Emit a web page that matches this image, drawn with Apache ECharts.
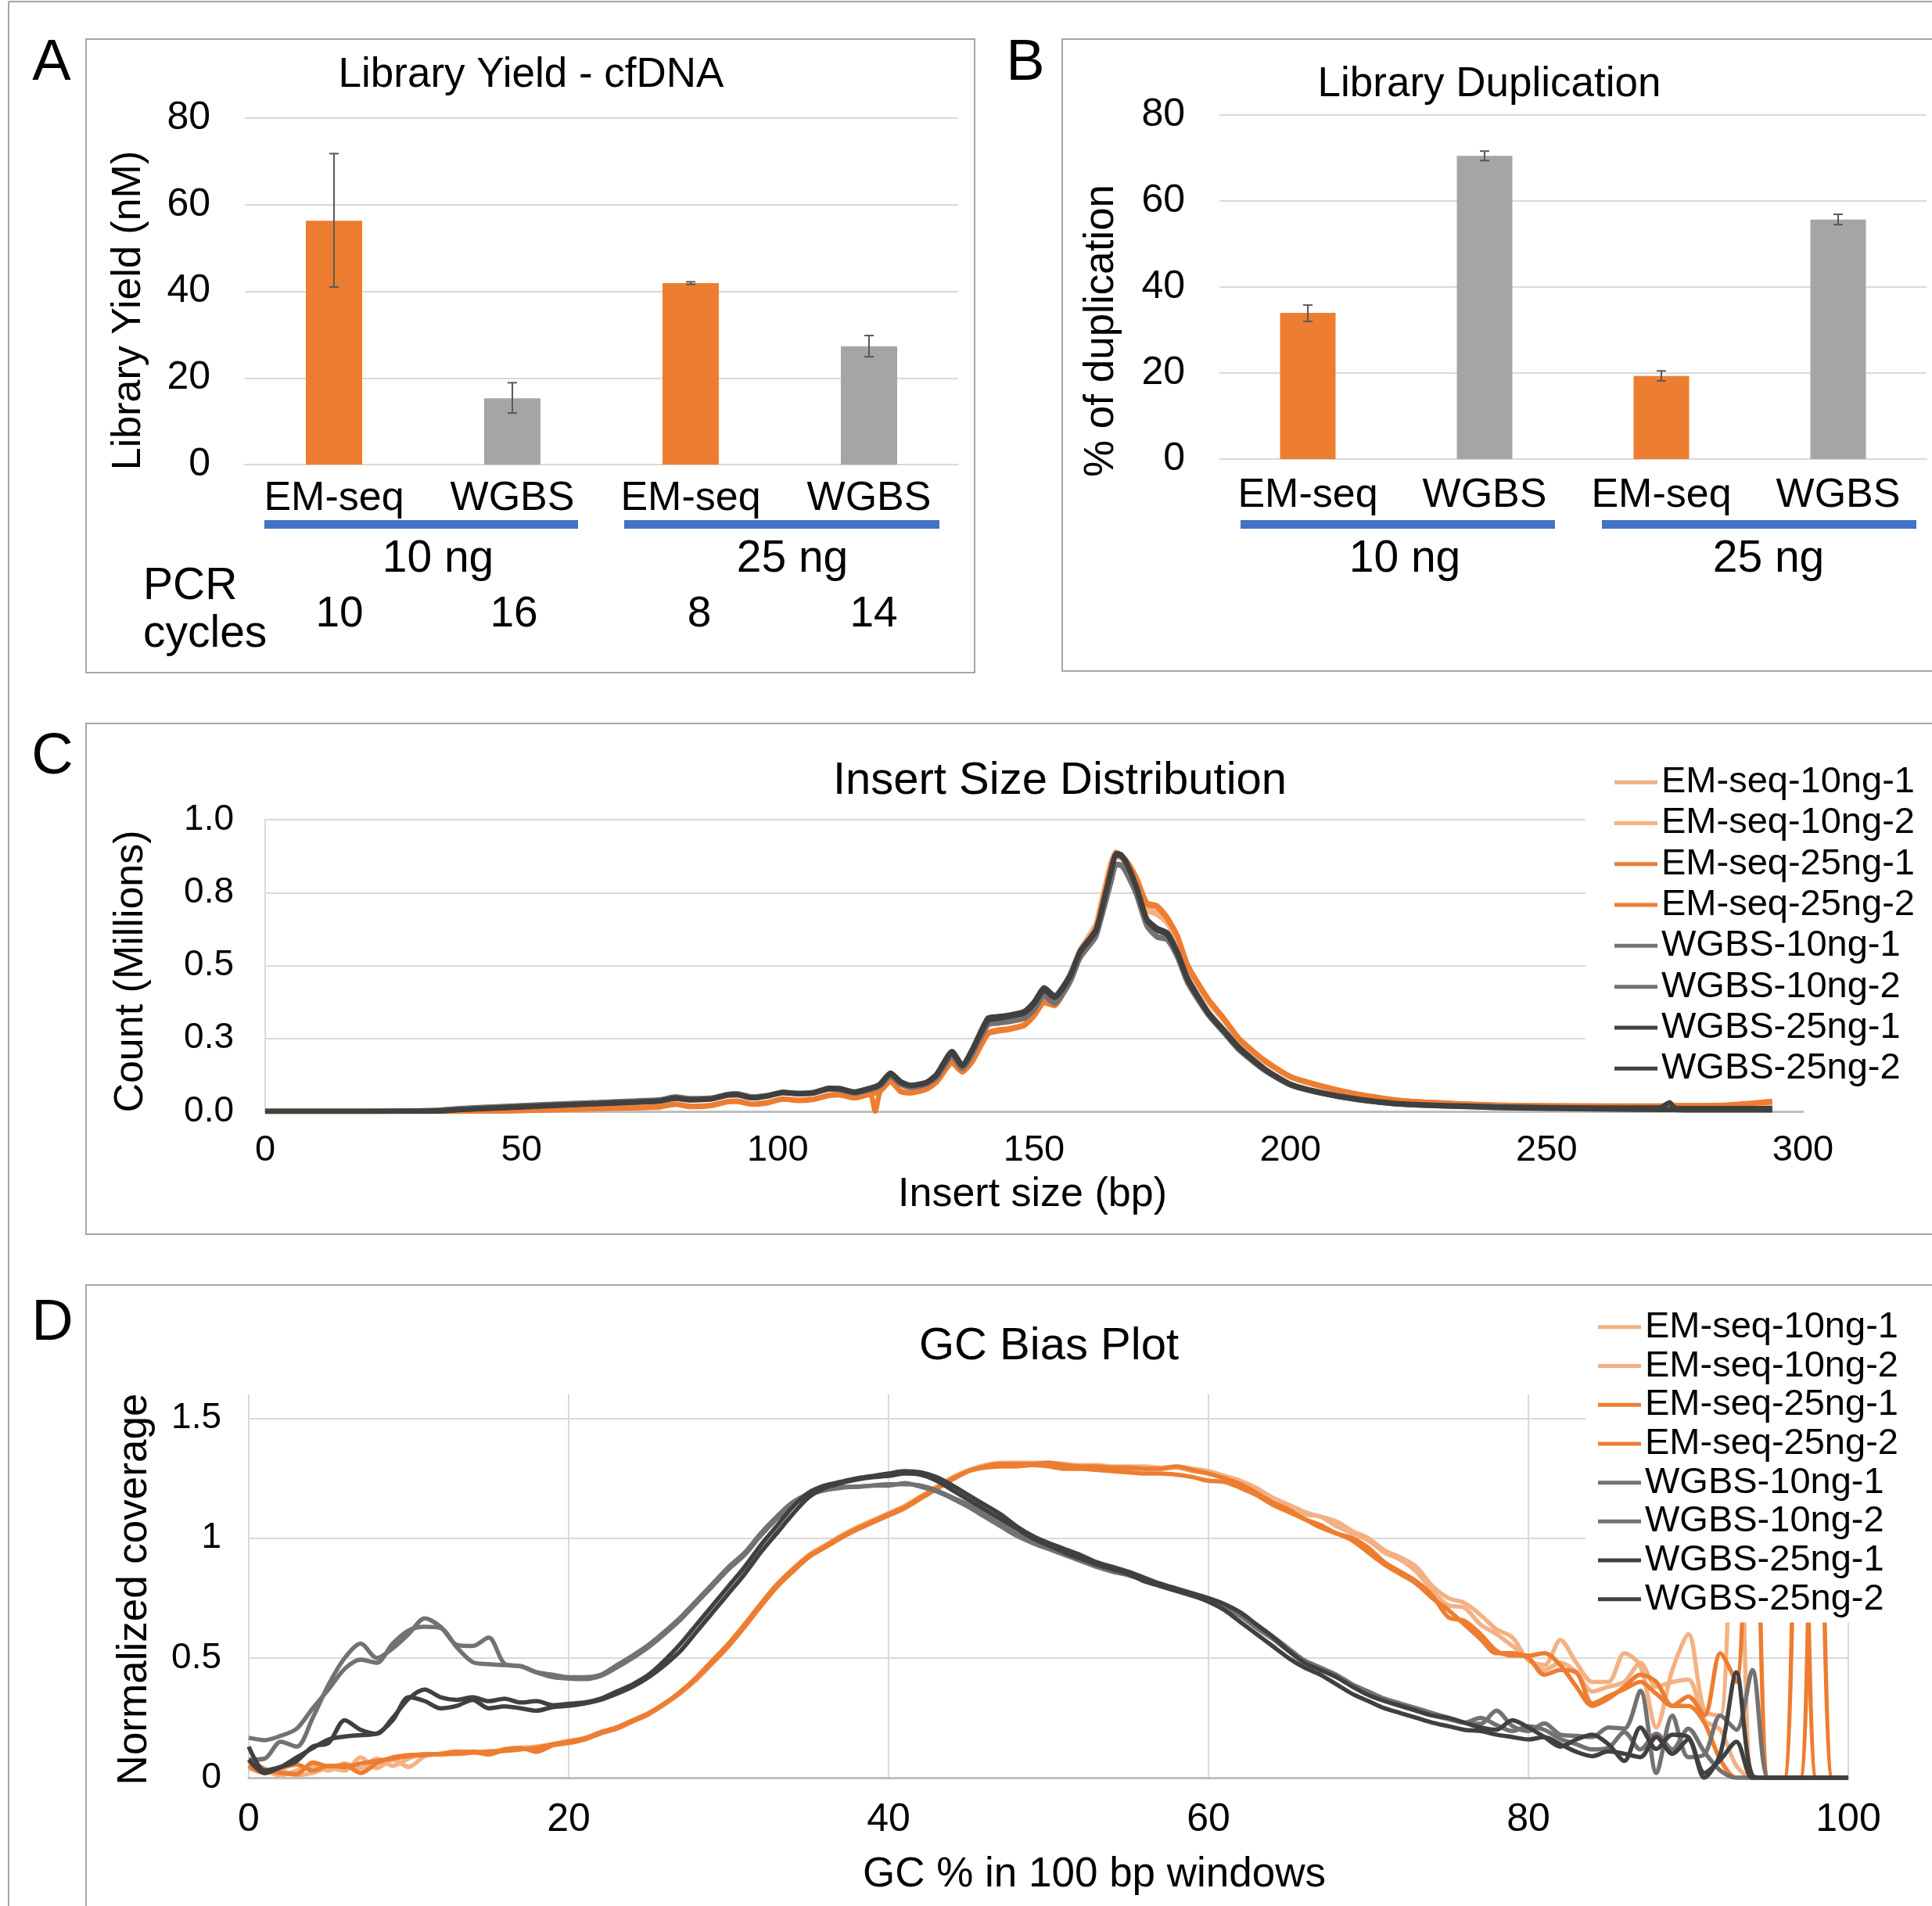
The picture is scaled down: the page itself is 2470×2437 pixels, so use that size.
<!DOCTYPE html>
<html>
<head>
<meta charset="utf-8">
<script src="https://cdn.jsdelivr.net/npm/echarts@6/dist/echarts.min.js"></script>
<style>
  html, body { margin: 0; padding: 0; background: #fff; }
  #main { width: 2470px; height: 2437px; }
</style>
</head>
<body>
<div id="main"></div>
<script>
const FONT = '"Liberation Sans", Arial, Helvetica, sans-serif';

// ---- panel A / B : bars ----
const libCategories = ['EM-seq', 'WGBS', 'EM-seq', 'WGBS'];
const barColors = ['#ED7D31', '#A5A5A5', '#ED7D31', '#A5A5A5'];
const yieldValues = [56.3, 15.3, 41.9, 27.3];
const yieldLow = [41.0, 11.9, 41.6, 24.9];
const yieldHigh = [71.8, 18.9, 42.2, 29.8];
const dupValues = [34.0, 70.5, 19.3, 55.7];
const dupLow = [32.0, 69.4, 18.2, 54.5];
const dupHigh = [35.8, 71.6, 20.5, 56.9];
const inputGroups = ['10 ng', '25 ng'];
const pcrCycles = ['10', '16', '8', '14'];

// ---- shared sample names / colours ----
const sampleNames = ['EM-seq-10ng-1', 'EM-seq-10ng-2', 'EM-seq-25ng-1', 'EM-seq-25ng-2',
  'WGBS-10ng-1', 'WGBS-10ng-2', 'WGBS-25ng-1', 'WGBS-25ng-2'];
const sampleColors = ['#F4B183', '#F4B183', '#ED7D31', '#ED7D31',
  '#767171', '#767171', '#404040', '#404040'];

// ---- panel C : insert size (millions) ----
const countTickLabels = ['0.0', '0.3', '0.5', '0.8', '1.0'];
const insertSize = [0, 20, 33, 38, 45, 55, 65, 72, 77, 80, 83, 87, 90, 92, 95, 98, 101, 104, 107, 110,
  112, 115, 118, 119, 120, 122, 124, 126, 129, 131, 134, 136, 138, 141, 143, 145, 148, 150, 152, 154,
  157, 159, 162, 163, 165, 166, 167, 168, 170, 172, 174, 176, 178, 180, 184, 187, 190, 195, 200, 206,
  213, 222, 240, 260, 272, 274, 275, 277, 285, 294];
const insEm10_1 = [0, 0, 0, 0, 0.002, 0.006, 0.011, 0.014, 0.017, 0.026, 0.018, 0.021, 0.033, 0.036, 0.026,
  0.031, 0.043, 0.039, 0.043, 0.056, 0.058, 0.048, 0.06, 0.064, 0.072, 0.105, 0.075, 0.066, 0.078, 0.105,
  0.172, 0.137, 0.18, 0.27, 0.28, 0.283, 0.298, 0.33, 0.38, 0.365, 0.47, 0.555, 0.64, 0.71, 0.855,
  0.89, 0.875, 0.85, 0.765, 0.695, 0.68, 0.648, 0.58, 0.49, 0.378, 0.315, 0.245, 0.172, 0.118, 0.085,
  0.058, 0.036, 0.022, 0.019, 0.019, 0.019, 0.019, 0.02, 0.021, 0.028];
const insEm10_2 = [0, 0, 0, 0, 0.002, 0.006, 0.01, 0.013, 0.016, 0.025, 0.017, 0.02, 0.032, 0.035, 0.025,
  0.03, 0.042, 0.038, 0.042, 0.055, 0.057, 0.047, 0.059, 0.063, 0.071, 0.104, 0.074, 0.065, 0.077, 0.104,
  0.17, 0.135, 0.178, 0.268, 0.278, 0.281, 0.296, 0.328, 0.378, 0.362, 0.468, 0.552, 0.636, 0.705, 0.85,
  0.885, 0.872, 0.847, 0.76, 0.69, 0.675, 0.645, 0.578, 0.487, 0.375, 0.312, 0.243, 0.17, 0.117, 0.084,
  0.057, 0.035, 0.021, 0.018, 0.018, 0.018, 0.018, 0.019, 0.02, 0.026];
const insEm25_1 = [0, 0, 0, 0, 0.001, 0.005, 0.01, 0.013, 0.016, 0.025, 0.017, 0.021, 0.033, 0.035, 0.025,
  0.03, 0.043, 0.038, 0.042, 0.055, 0.057, 0.047, 0.06, 0.0, 0.07, 0.104, 0.068, 0.064, 0.077, 0.102,
  0.168, 0.137, 0.175, 0.268, 0.278, 0.283, 0.296, 0.33, 0.375, 0.365, 0.46, 0.545, 0.625, 0.69, 0.84,
  0.878, 0.872, 0.86, 0.8, 0.715, 0.705, 0.665, 0.6, 0.5, 0.385, 0.32, 0.25, 0.175, 0.12, 0.088,
  0.06, 0.037, 0.022, 0.019, 0.019, 0.019, 0.02, 0.02, 0.022, 0.035];
const insEm25_2 = [0, 0, 0, 0, 0.001, 0.005, 0.009, 0.012, 0.015, 0.024, 0.016, 0.02, 0.032, 0.034, 0.024,
  0.029, 0.042, 0.037, 0.041, 0.054, 0.056, 0.046, 0.059, 0.063, 0.069, 0.102, 0.067, 0.063, 0.076, 0.1,
  0.165, 0.135, 0.172, 0.265, 0.275, 0.28, 0.293, 0.327, 0.372, 0.362, 0.456, 0.54, 0.62, 0.685, 0.835,
  0.875, 0.87, 0.858, 0.795, 0.71, 0.7, 0.66, 0.598, 0.498, 0.383, 0.318, 0.248, 0.173, 0.119, 0.087,
  0.059, 0.036, 0.021, 0.018, 0.018, 0.018, 0.019, 0.019, 0.021, 0.032];
const insWg10_1 = [0, 0, 0.004, 0.01, 0.016, 0.024, 0.031, 0.036, 0.04, 0.05, 0.044, 0.046, 0.058, 0.061, 0.05,
  0.055, 0.066, 0.061, 0.064, 0.077, 0.075, 0.063, 0.075, 0.08, 0.088, 0.122, 0.094, 0.083, 0.094, 0.118,
  0.19, 0.148, 0.2, 0.3, 0.305, 0.31, 0.32, 0.352, 0.4, 0.372, 0.445, 0.53, 0.6, 0.66, 0.79,
  0.848, 0.845, 0.82, 0.745, 0.64, 0.6, 0.59, 0.53, 0.44, 0.33, 0.27, 0.21, 0.14, 0.09, 0.062,
  0.04, 0.024, 0.014, 0.01, 0.009, 0.009, 0.009, 0.008, 0.008, 0.008];
const insWg10_2 = [0, 0, 0.003, 0.009, 0.015, 0.023, 0.03, 0.035, 0.039, 0.048, 0.043, 0.045, 0.057, 0.06, 0.049,
  0.054, 0.065, 0.06, 0.063, 0.076, 0.074, 0.062, 0.074, 0.079, 0.087, 0.12, 0.093, 0.082, 0.093, 0.116,
  0.188, 0.146, 0.198, 0.296, 0.302, 0.307, 0.318, 0.348, 0.396, 0.37, 0.442, 0.527, 0.597, 0.655, 0.785,
  0.845, 0.842, 0.818, 0.742, 0.636, 0.597, 0.588, 0.528, 0.44, 0.332, 0.272, 0.212, 0.142, 0.091, 0.063,
  0.041, 0.025, 0.015, 0.011, 0.01, 0.01, 0.01, 0.009, 0.009, 0.009];
const insWg25_1 = [0, 0, 0, 0.006, 0.012, 0.02, 0.027, 0.032, 0.036, 0.046, 0.04, 0.043, 0.056, 0.058, 0.047,
  0.053, 0.066, 0.062, 0.065, 0.08, 0.079, 0.067, 0.08, 0.085, 0.095, 0.132, 0.102, 0.09, 0.1, 0.128,
  0.206, 0.16, 0.215, 0.32, 0.325, 0.33, 0.342, 0.375, 0.424, 0.396, 0.467, 0.55, 0.62, 0.68, 0.825,
  0.885, 0.88, 0.855, 0.77, 0.66, 0.628, 0.612, 0.545, 0.455, 0.34, 0.28, 0.22, 0.146, 0.094, 0.065,
  0.043, 0.026, 0.016, 0.012, 0.012, 0.03, 0.012, 0.01, 0.01, 0.01];
const insWg25_2 = [0, 0, 0.002, 0.006, 0.011, 0.019, 0.026, 0.031, 0.035, 0.044, 0.039, 0.042, 0.054, 0.056, 0.046,
  0.052, 0.064, 0.06, 0.063, 0.078, 0.077, 0.065, 0.078, 0.083, 0.092, 0.128, 0.099, 0.088, 0.098, 0.124,
  0.2, 0.156, 0.21, 0.312, 0.318, 0.325, 0.336, 0.368, 0.415, 0.39, 0.46, 0.545, 0.615, 0.675, 0.82,
  0.88, 0.875, 0.85, 0.765, 0.655, 0.622, 0.605, 0.54, 0.45, 0.335, 0.275, 0.215, 0.143, 0.092, 0.063,
  0.041, 0.024, 0.013, 0.008, 0.006, 0.006, 0.006, 0.005, 0.005, 0.005];
const insertSeries = [insEm10_1, insEm10_2, insEm25_1, insEm25_2, insWg10_1, insWg10_2, insWg25_1, insWg25_2];

// ---- panel D : GC bias (normalized coverage, one value per GC %) ----
const gcPercent = Array.from({ length: 101 }, (_, i) => i);
const gcEm10_1 = [0.04, 0.02, 0.03, 0.01, 0.02, 0.04, 0.03, 0.085, 0.04, 0.075,
  0.045, 0.09, 0.1, 0.11, 0.105, 0.1, 0.115, 0.125, 0.13, 0.14,
  0.15, 0.16, 0.185, 0.205, 0.235, 0.265, 0.305, 0.355, 0.41, 0.48,
  0.55, 0.63, 0.72, 0.8, 0.865, 0.925, 0.965, 1.005, 1.04, 1.07,
  1.1, 1.13, 1.17, 1.21, 1.25, 1.28, 1.3, 1.31, 1.315, 1.315,
  1.315, 1.31, 1.305, 1.305, 1.3, 1.3, 1.3, 1.295, 1.3, 1.29,
  1.28, 1.26, 1.24, 1.21, 1.17, 1.14, 1.11, 1.09, 1.07, 1.03,
  1.0, 0.95, 0.92, 0.88, 0.8, 0.75, 0.73, 0.68, 0.62, 0.586,
  0.49, 0.47, 0.575, 0.48, 0.4, 0.4, 0.52, 0.466, 0.21, 0.45,
  0.6, 0.28, 0.26, 1.8, 0, 0, 0, 0, 0, 0, 0];
const gcEm10_2 = [0.06, 0.03, 0.01, 0.03, 0.05, 0.03, 0.06, 0.04, 0.08, 0.05,
  0.08, 0.1, 0.095, 0.105, 0.11, 0.105, 0.12, 0.125, 0.13, 0.14,
  0.155, 0.165, 0.19, 0.21, 0.24, 0.27, 0.31, 0.36, 0.42, 0.49,
  0.56, 0.64, 0.725, 0.805, 0.87, 0.93, 0.97, 1.01, 1.045, 1.075,
  1.105, 1.135, 1.175, 1.215, 1.255, 1.285, 1.305, 1.315, 1.315, 1.31,
  1.31, 1.305, 1.3, 1.3, 1.295, 1.29, 1.29, 1.29, 1.295, 1.28,
  1.27, 1.25, 1.23, 1.2, 1.16, 1.13, 1.1, 1.09, 1.05, 1.02,
  0.99, 0.94, 0.91, 0.86, 0.78, 0.72, 0.71, 0.64, 0.6, 0.55,
  0.5, 0.45, 0.48, 0.44, 0.36, 0.38, 0.4, 0.48, 0.38, 0.4,
  0.41, 0.24, 0.2, 0.05, 0, 0, 0, 0, 0, 0, 0];
const gcEm25_1 = [0.075, 0.037, 0.02, 0.015, 0.064, 0.048, 0.053, 0.02, 0.06, 0.085,
  0.095, 0.097, 0.1, 0.108, 0.108, 0.097, 0.118, 0.124, 0.108, 0.135,
  0.145, 0.16, 0.185, 0.205, 0.235, 0.265, 0.31, 0.355, 0.415, 0.48,
  0.55, 0.63, 0.715, 0.795, 0.86, 0.92, 0.96, 1.0, 1.035, 1.065,
  1.095, 1.125, 1.165, 1.205, 1.245, 1.28, 1.3, 1.31, 1.31, 1.31,
  1.315, 1.305, 1.3, 1.3, 1.295, 1.295, 1.29, 1.29, 1.3, 1.285,
  1.27, 1.25, 1.225, 1.19, 1.15, 1.12, 1.08, 1.055, 1.02, 1.0,
  0.96, 0.9, 0.86, 0.82, 0.76, 0.67, 0.655, 0.6, 0.53, 0.51,
  0.51, 0.52, 0.47, 0.38, 0.3, 0.33, 0.38, 0.43, 0.4, 0.3,
  0.34, 0.26, 0.52, 0.4, 2.0, 0, 0, 2.2, 0, 0, 0];
const gcEm25_2 = [0.05, 0.02, 0.04, 0.055, 0.03, 0.05, 0.045, 0.06, 0.07, 0.08,
  0.09, 0.095, 0.1, 0.1, 0.105, 0.11, 0.112, 0.118, 0.125, 0.14,
  0.15, 0.165, 0.19, 0.21, 0.24, 0.27, 0.31, 0.36, 0.42, 0.49,
  0.56, 0.64, 0.725, 0.805, 0.87, 0.925, 0.965, 1.005, 1.04, 1.07,
  1.1, 1.13, 1.17, 1.21, 1.25, 1.28, 1.295, 1.3, 1.3, 1.305,
  1.3, 1.29, 1.29, 1.285, 1.28, 1.275, 1.27, 1.27, 1.265, 1.255,
  1.24, 1.235, 1.21, 1.18, 1.14, 1.11, 1.08, 1.045, 1.02, 0.99,
  0.94, 0.89, 0.85, 0.81, 0.75, 0.7, 0.64, 0.58, 0.52, 0.52,
  0.5, 0.43, 0.45, 0.44, 0.31, 0.34, 0.37, 0.4, 0.35, 0.3,
  0.3, 0.23, 0.075, 0, 0, 0, 0, 0, 2.2, 0, 0];
const gcWg10_1 = [0.167, 0.157, 0.175, 0.205, 0.29, 0.37, 0.455, 0.493, 0.48, 0.56,
  0.615, 0.63, 0.625, 0.545, 0.483, 0.474, 0.47, 0.466, 0.44, 0.42,
  0.414, 0.412, 0.425, 0.46, 0.5, 0.545, 0.6, 0.66, 0.73, 0.8,
  0.87, 0.93, 1.01, 1.08, 1.14, 1.18, 1.2, 1.21, 1.215, 1.22,
  1.225, 1.225, 1.22, 1.2, 1.17, 1.14, 1.1, 1.06, 1.02, 0.99,
  0.96, 0.94, 0.91, 0.885, 0.865, 0.85, 0.83, 0.805, 0.785, 0.765,
  0.745, 0.72, 0.68, 0.63, 0.59, 0.54, 0.49, 0.46, 0.43, 0.39,
  0.36, 0.33, 0.31, 0.29, 0.27, 0.25, 0.23, 0.225, 0.28, 0.216,
  0.195, 0.227, 0.18, 0.175, 0.17, 0.21, 0.205, 0.363, 0.02, 0.26,
  0.086, 0.097, 0.26, 0.2, 0.45, 0, 0, 0, 0, 0, 0];
const gcWg10_2 = [0.075, 0.08, 0.15, 0.13, 0.25, 0.39, 0.5, 0.56, 0.5, 0.54,
  0.6, 0.665, 0.63, 0.555, 0.55, 0.585, 0.475, 0.465, 0.44, 0.43,
  0.42, 0.42, 0.43, 0.47, 0.51, 0.555, 0.61, 0.67, 0.74, 0.81,
  0.88, 0.94, 1.02, 1.09, 1.15, 1.185, 1.205, 1.215, 1.215, 1.22,
  1.22, 1.23, 1.215, 1.195, 1.165, 1.13, 1.09, 1.05, 1.01, 0.98,
  0.955, 0.93, 0.905, 0.88, 0.86, 0.845, 0.825, 0.8, 0.78, 0.76,
  0.74, 0.715, 0.675, 0.625, 0.58, 0.53, 0.485, 0.455, 0.42, 0.385,
  0.355, 0.325, 0.3, 0.28, 0.26, 0.245, 0.23, 0.25, 0.22, 0.195,
  0.215, 0.2, 0.162, 0.14, 0.118, 0.125, 0.19, 0.118, 0.184, 0.118,
  0.205, 0.108, 0.03, 0, 0, 0, 0, 0, 0, 0, 0];
const gcWg25_1 = [0.13, 0.03, 0.045, 0.07, 0.13, 0.146, 0.24, 0.2, 0.184, 0.25,
  0.33, 0.368, 0.336, 0.325, 0.336, 0.32, 0.33, 0.314, 0.32, 0.303,
  0.309, 0.314, 0.33, 0.36, 0.39, 0.43, 0.49, 0.56, 0.64, 0.72,
  0.8, 0.88, 0.97, 1.05, 1.13, 1.19, 1.22, 1.235, 1.25, 1.26,
  1.27, 1.28, 1.275, 1.255, 1.22, 1.18, 1.14, 1.1, 1.05, 1.01,
  0.98, 0.955, 0.93, 0.9, 0.88, 0.86, 0.835, 0.81, 0.79, 0.77,
  0.75, 0.725, 0.69, 0.64, 0.59, 0.53, 0.48, 0.45, 0.42, 0.38,
  0.345, 0.32, 0.3, 0.28, 0.26, 0.25, 0.23, 0.21, 0.2, 0.24,
  0.21, 0.17, 0.13, 0.16, 0.18, 0.14, 0.07, 0.21, 0.12, 0.18,
  0.17, 0, 0.1, 0.44, 0.01, 0, 0, 0, 0, 0, 0];
const gcWg25_2 = [0.075, 0.02, 0.045, 0.085, 0.124, 0.16, 0.172, 0.178, 0.184, 0.24,
  0.336, 0.32, 0.29, 0.3, 0.325, 0.29, 0.298, 0.29, 0.28, 0.295,
  0.3, 0.31, 0.325, 0.35, 0.38, 0.42, 0.47, 0.53, 0.61, 0.69,
  0.77, 0.85, 0.94, 1.02, 1.1, 1.17, 1.21, 1.23, 1.245, 1.255,
  1.26, 1.27, 1.265, 1.24, 1.2, 1.16, 1.12, 1.08, 1.04, 1.0,
  0.97, 0.94, 0.915, 0.89, 0.87, 0.85, 0.82, 0.8, 0.78, 0.76,
  0.735, 0.7, 0.65, 0.6, 0.55, 0.5, 0.46, 0.43, 0.39, 0.35,
  0.32, 0.29, 0.27, 0.25, 0.23, 0.215, 0.2, 0.195, 0.18, 0.17,
  0.16, 0.17, 0.14, 0.108, 0.09, 0.11, 0.1, 0.086, 0.17, 0.1,
  0.16, 0.02, 0.075, 0.15, 0, 0, 0, 0, 0, 0, 0];
const gcSeries = [gcEm10_1, gcEm10_2, gcEm25_1, gcEm25_2, gcWg10_1, gcWg10_2, gcWg25_1, gcWg25_2];

const myChart = echarts.init(document.getElementById('main'), null, { renderer: 'canvas' });

function txt(x, y, s, size, extra) {
  return Object.assign({
    type: 'text', x: x, y: y, z: 10,
    style: {
      text: s, font: size + 'px ' + FONT, fill: '#000',
      align: 'center', verticalAlign: 'middle',
      textAlign: 'center', textVerticalAlign: 'middle'
    }
  }, extra || {});
}
function leftTxt(x, y, s, size) {
  return {
    type: 'text', x: x, y: y, z: 10,
    style: {
      text: s, font: size + 'px ' + FONT, fill: '#000',
      align: 'left', verticalAlign: 'middle',
      textAlign: 'left', textVerticalAlign: 'middle'
    }
  };
}
function box(x, y, w, h) {
  return { type: 'rect', shape: { x: x, y: y, width: w, height: h }, z: 0,
    style: { fill: 'none', stroke: '#A6A6A6', lineWidth: 2 } };
}
function blueBar(x, y, w) {
  return { type: 'rect', shape: { x: x, y: y, width: w, height: 11 }, z: 10, style: { fill: '#4472C4' } };
}

function errorBar(params, api) {
  const i = api.value(0);
  const top = api.coord([i, api.value(2)]);
  const bot = api.coord([i, api.value(1)]);
  const st = { stroke: '#595959', lineWidth: 2 };
  return {
    type: 'group',
    children: [
      { type: 'line', shape: { x1: top[0], y1: top[1], x2: bot[0], y2: bot[1] }, style: st },
      { type: 'line', shape: { x1: top[0] - 6, y1: top[1], x2: top[0] + 6, y2: top[1] }, style: st },
      { type: 'line', shape: { x1: bot[0] - 6, y1: bot[1], x2: bot[0] + 6, y2: bot[1] }, style: st }
    ]
  };
}

const gridColor = '#D9D9D9';
function barXAxis(grid, margin) {
  return {
    type: 'category', gridIndex: grid, data: libCategories,
    axisTick: { show: false },
    axisLine: { lineStyle: { color: gridColor, width: 2 } },
    axisLabel: { fontSize: 52, color: '#000', margin: margin, interval: 0 }
  };
}
function barYAxis(grid) {
  return {
    type: 'value', gridIndex: grid, min: 0, max: 80, interval: 20,
    axisLine: { show: false }, axisTick: { show: false },
    splitLine: { lineStyle: { color: gridColor, width: 2 } },
    axisLabel: { fontSize: 50, color: '#000', margin: 44 }
  };
}

const series = [
  {
    type: 'bar', xAxisIndex: 0, yAxisIndex: 0, barWidth: 72,
    data: yieldValues.map((v, i) => ({ value: v, itemStyle: { color: barColors[i] } }))
  },
  {
    type: 'custom', xAxisIndex: 0, yAxisIndex: 0, renderItem: errorBar, z: 5,
    encode: { x: 0, y: [1, 2] },
    data: yieldLow.map((lo, i) => [i, lo, yieldHigh[i]])
  },
  {
    type: 'bar', xAxisIndex: 1, yAxisIndex: 1, barWidth: 71,
    data: dupValues.map((v, i) => ({ value: v, itemStyle: { color: barColors[i] } }))
  },
  {
    type: 'custom', xAxisIndex: 1, yAxisIndex: 1, renderItem: errorBar, z: 5,
    encode: { x: 0, y: [1, 2] },
    data: dupLow.map((lo, i) => [i, lo, dupHigh[i]])
  }
];

insertSeries.forEach(function (arr, k) {
  series.push({
    name: sampleNames[k], type: 'line', xAxisIndex: 2, yAxisIndex: 2,
    symbol: 'none', smooth: 0.2, color: sampleColors[k],
    lineStyle: { width: 6.5, color: sampleColors[k] },
    data: insertSize.map((x, i) => [x, arr[i]])
  });
});
gcSeries.forEach(function (arr, k) {
  series.push({
    name: sampleNames[k], type: 'line', xAxisIndex: 3, yAxisIndex: 3,
    symbol: 'none', smooth: 0.3, color: sampleColors[k],
    lineStyle: { width: 5.5, color: sampleColors[k] },
    data: gcPercent.map((x, i) => [x, arr[i]])
  });
});

function sampleLegend(top, rowH, padLeft) {
  return {
    orient: 'vertical', left: 2027, top: top, data: sampleNames,
    icon: 'rect', itemWidth: 55, itemHeight: 5, itemGap: 0,
    backgroundColor: '#fff', padding: [5, 10, 5, padLeft],
    selectedMode: false,
    textStyle: { fontSize: 47, color: '#000', lineHeight: rowH }
  };
}

const option = {
  animation: false,
  backgroundColor: '#fff',
  textStyle: { fontFamily: FONT },
  grid: [
    { left: 313, top: 151, width: 912, height: 443 },
    { left: 1559, top: 147, width: 904, height: 440 },
    { left: 339, top: 1048, width: 1966, height: 373 },
    { left: 318, top: 1783, width: 2045, height: 490 }
  ],
  xAxis: [
    barXAxis(0, 18),
    barXAxis(1, 21),
    {
      type: 'value', gridIndex: 2, min: 0, max: 300, interval: 50,
      axisLine: { lineStyle: { color: '#BFBFBF', width: 3 } },
      axisTick: { show: false }, splitLine: { show: false },
      axisLabel: { fontSize: 47, color: '#000', margin: 27 }
    },
    {
      type: 'value', gridIndex: 3, min: 0, max: 100, interval: 20,
      axisLine: { lineStyle: { color: '#BFBFBF', width: 3 } },
      axisTick: { show: false },
      splitLine: { lineStyle: { color: gridColor, width: 2 } },
      axisLabel: { fontSize: 50, color: '#000', margin: 29 }
    }
  ],
  yAxis: [
    barYAxis(0),
    barYAxis(1),
    {
      type: 'value', gridIndex: 2, min: 0, max: 1, interval: 0.25,
      axisLine: { show: true, lineStyle: { color: gridColor, width: 2 } },
      axisTick: { show: false },
      splitLine: { lineStyle: { color: gridColor, width: 2 } },
      axisLabel: { fontSize: 46, color: '#000', margin: 40,
        formatter: (v, i) => countTickLabels[i] }
    },
    {
      type: 'value', gridIndex: 3, min: 0, max: 1.6, interval: 0.5,
      axisLine: { show: false }, axisTick: { show: false },
      splitLine: { showMaxLine: false, lineStyle: { color: gridColor, width: 2 } },
      axisLabel: { fontSize: 46, color: '#000', margin: 35, showMaxLabel: false }
    }
  ],
  legend: [sampleLegend(969, 52.3, 37), sampleLegend(1667, 49.7, 16)],
  series: series,
  graphic: [
    // outer frame + panel boxes
    { type: 'line', shape: { x1: 11, y1: 2, x2: 2470, y2: 2 }, style: { stroke: '#A6A6A6', lineWidth: 2 } },
    { type: 'line', shape: { x1: 11, y1: 2, x2: 11, y2: 2437 }, style: { stroke: '#A6A6A6', lineWidth: 2 } },
    box(110, 50, 1136, 810),
    box(1358, 50, 1120, 808),
    box(110, 925, 2370, 653),
    box(110, 1643, 2370, 800),
    // panel letters
    txt(66, 82, 'A', 74), txt(1311, 82, 'B', 74), txt(67, 969, 'C', 74), txt(67, 1693, 'D', 74),
    // titles
    txt(679, 96, 'Library Yield - cfDNA', 53),
    txt(1904, 108, 'Library Duplication', 53),
    txt(1355, 999, 'Insert Size Distribution', 58),
    txt(1341, 1722, 'GC Bias Plot', 58),
    // axis titles
    txt(165, 397, 'Library Yield (nM)', 52, { rotation: Math.PI / 2 }),
    txt(1408, 423, '% of duplication', 53, { rotation: Math.PI / 2 }),
    txt(168, 1242, 'Count (Millions)', 52, { rotation: Math.PI / 2 }),
    txt(172, 2032, 'Normalized coverage', 53, { rotation: Math.PI / 2 }),
    txt(1320, 1528, 'Insert size (bp)', 52),
    txt(1399, 2397, 'GC % in 100 bp windows', 53),
    // input groups, panel A
    blueBar(338, 665, 401), blueBar(798, 665, 403),
    txt(560, 715, inputGroups[0], 57), txt(1013, 715, inputGroups[1], 57),
    leftTxt(183, 750, 'PCR', 57),
    leftTxt(183, 811, 'cycles', 57),
    txt(434, 786, pcrCycles[0], 55), txt(657, 786, pcrCycles[1], 55),
    txt(894, 786, pcrCycles[2], 55), txt(1117, 786, pcrCycles[3], 55),
    // input groups, panel B
    blueBar(1586, 665, 402), blueBar(2048, 665, 402),
    txt(1796, 715, inputGroups[0], 57), txt(2261, 715, inputGroups[1], 57)
  ]
};

myChart.setOption(option);
</script>
</body>
</html>
